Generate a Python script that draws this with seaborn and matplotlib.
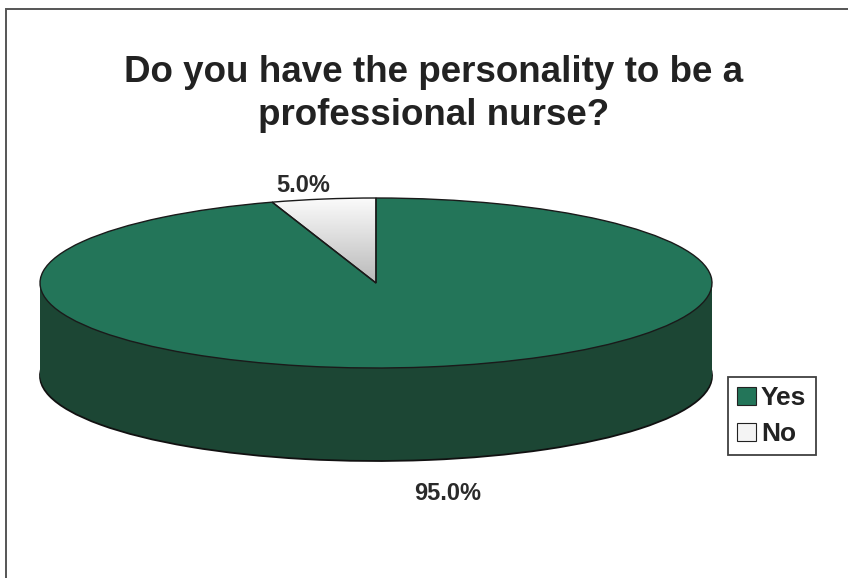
import numpy as np
import matplotlib
matplotlib.use("Agg")
import matplotlib.pyplot as plt
import seaborn as sns
from matplotlib.patches import Rectangle

# Survey answers
answers = ["Yes", "No"]
shares = [95.0, 5.0]
title_lines = ["Do you have the personality to be a", "professional nurse?"]

top_colors = ["#237559", "#f4f4f4"]
side_colors = ["#1c4634", "#8c8c8c"]

sns.set_theme(style="white")
plt.rcParams["font.family"] = ["Liberation Sans", "DejaVu Sans"]
plt.rcParams["font.weight"] = "bold"

W, H = 848, 578
fig = plt.figure(figsize=(W / 100, H / 100), dpi=100)
fig.patch.set_facecolor("white")
ax = fig.add_axes([0, 0, 1, 1])

# pixel geometry of the tilted disc (centre, half-axes, wall height)
cx, cy = 376, 283
rx, ry = 336, 85
depth = 93 / ry

# side wall: stacked discs, lowest one carries the outline
offsets = np.linspace(depth, 0, 48)[:-1]
for i, d in enumerate(offsets):
    ax.pie(shares, colors=side_colors, startangle=90, counterclock=False,
           center=(0, -d),
           wedgeprops=dict(edgecolor="#111111" if i == 0 else "none",
                           linewidth=1.3 if i == 0 else 0))

# top face
wedges, _ = ax.pie(shares, colors=top_colors, startangle=90, counterclock=False,
                   center=(0, 0),
                   wedgeprops=dict(edgecolor="none", linewidth=0))

# soft white-to-grey shading on the small slice
grad = np.linspace(0.0, 1.0, 256).reshape(-1, 1)
shade = matplotlib.colors.LinearSegmentedColormap.from_list(
    "shade", ["#b9b9b9", "#ffffff"])
img = ax.imshow(grad, cmap=shade, extent=(-0.4, 0.05, 0.0, 1.05),
                aspect="auto", origin="lower",
                zorder=wedges[1].get_zorder() + 0.1)
img.set_clip_path(wedges[1])

# slice outlines over everything
ax.pie(shares, colors=["none", "none"], startangle=90, counterclock=False,
       center=(0, 0),
       wedgeprops=dict(edgecolor="#1a1a1a", linewidth=1.0, zorder=5))

ax.set_xlim(-cx / rx, (W - cx) / rx)
ax.set_ylim(-(H - cy) / ry, cy / ry)
ax.set_aspect("auto")
ax.axis("off")

# percentage labels
fig.text(303 / W, 1 - 186 / H, f"{shares[1]:.1f}%", ha="center", va="center",
         fontsize=17, fontweight="bold", color="#2a2a2a")
fig.text(448 / W, 1 - 493 / H, f"{shares[0]:.1f}%", ha="center", va="center",
         fontsize=17, fontweight="bold", color="#2a2a2a")

# two-line title
for line, base in zip(title_lines, [82, 125]):
    fig.text(434 / W, 1 - base / H, line, ha="center", va="baseline",
             fontsize=26.5, fontweight="bold", color="#222222")

leg = fig.legend(wedges, answers, loc="upper left",
                 bbox_to_anchor=(728 / W, 1 - 377 / H), borderaxespad=0,
                 frameon=True, fancybox=False, edgecolor="#111111",
                 handlelength=0.7, handleheight=0.7, handletextpad=0.2,
                 borderpad=0.35, labelspacing=0.45,
                 prop=dict(size=19, weight="bold"))
leg.get_frame().set_linewidth(1.3)
for t in leg.get_texts():
    t.set_color("#222222")
for h in leg.legend_handles:
    h.set_edgecolor("#222222")
    h.set_linewidth(0.8)

# chart-area border
fig.patches.append(Rectangle((6 / W, -0.1), 2, 1.1 - 9 / H,
                             transform=fig.transFigure, fill=False,
                             edgecolor="#555555", linewidth=1.4))

fig.savefig("out.png", dpi=100, facecolor="white")
